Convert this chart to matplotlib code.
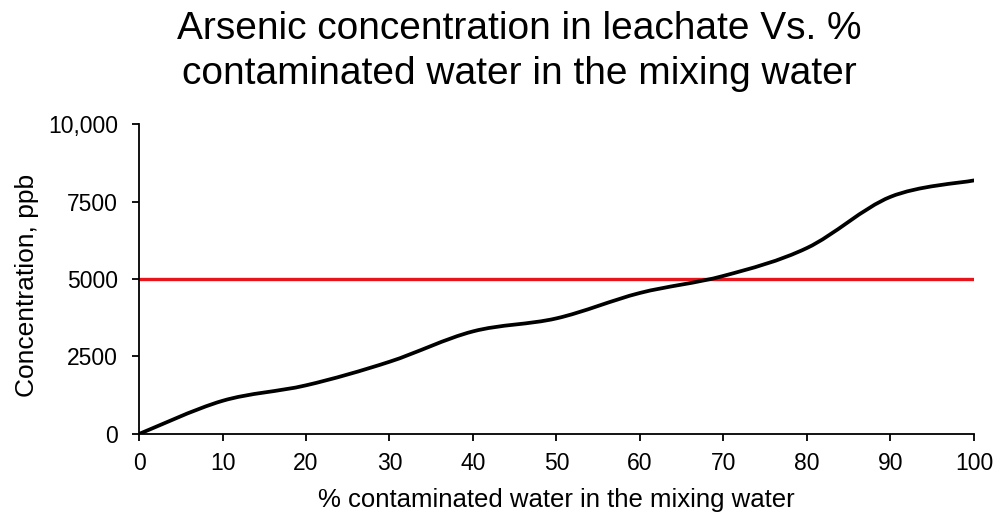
import matplotlib
matplotlib.use('Agg')
import matplotlib.pyplot as plt
from matplotlib.path import Path
from matplotlib.patches import PathPatch

plt.rcParams['font.family'] = ['Liberation Sans', 'DejaVu Sans']

# data
pct = [0, 10, 20, 30, 40, 50, 60, 70, 80, 90, 100]
conc = [0, 1070, 1570, 2330, 3310, 3730, 4550, 5100, 6000, 7650, 8180]
limit = 5000
yticks = [0, 2500, 5000, 7500, 10000]
ytick_labels = ['0', '2500', '5000', '7500', '10,000']
xticks = list(range(0, 101, 10))

fig = plt.figure(figsize=(10.03, 5.15), dpi=100)
ax = fig.add_axes([0.1386, 0.1573, 0.8324, 0.6019])

# smoothed line, same way a spreadsheet does it (bezier through the points)
verts = [(pct[0], conc[0])]
codes = [Path.MOVETO]
n = len(pct)
for i in range(n - 1):
    p0 = (pct[max(i - 1, 0)], conc[max(i - 1, 0)])
    p1 = (pct[i], conc[i])
    p2 = (pct[i + 1], conc[i + 1])
    p3 = (pct[min(i + 2, n - 1)], conc[min(i + 2, n - 1)])
    c1 = (p1[0] + (p2[0] - p0[0]) / 6.0, p1[1] + (p2[1] - p0[1]) / 6.0)
    c2 = (p2[0] - (p3[0] - p1[0]) / 6.0, p2[1] - (p3[1] - p1[1]) / 6.0)
    verts += [c1, c2, p2]
    codes += [Path.CURVE4] * 3
ax.add_patch(PathPatch(Path(verts, codes), facecolor='none', edgecolor='black',
                       lw=2.7, capstyle='round', zorder=3))

ax.plot([pct[0], pct[-1]], [limit, limit], color='#e8141b', lw=2.4, zorder=2)

ax.set_xlim(0, 100)
ax.set_ylim(0, 10000)
ax.set_xticks(xticks)
ax.set_yticks(yticks)
ax.set_yticklabels(ytick_labels)
ax.spines['right'].set_visible(False)
ax.spines['top'].set_visible(False)
for s in ['left', 'bottom']:
    ax.spines[s].set_linewidth(1.3)
    ax.spines[s].set_zorder(4)
ax.tick_params(direction='out', length=5, width=1.3, labelsize=16.5)
ax.tick_params(axis='x', pad=8)
ax.tick_params(axis='y', pad=10)

ax.set_xlabel('% contaminated water in the mixing water', fontsize=18.5)
ax.xaxis.set_label_coords(0.5, -0.175)
ax.set_ylabel('Concentration, ppb', fontsize=19)
ax.yaxis.set_label_coords(-0.12, 0.48)
fig.text(0.518, 0.978, 'Arsenic concentration in leachate Vs. %\ncontaminated water in the mixing water',
         ha='center', va='top', fontsize=28, linespacing=1.3)

fig.savefig('out.png', dpi=100)
